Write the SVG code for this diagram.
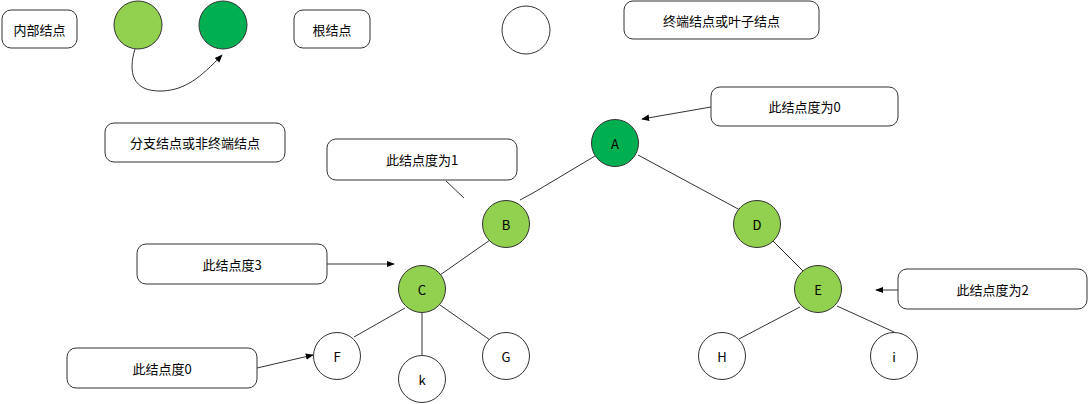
<svg xmlns="http://www.w3.org/2000/svg" width="1088" height="404" viewBox="0 0 1088 404">
<style>
.box{fill:#fff;stroke:#333;stroke-width:1}
.c{stroke:#333;stroke-width:1}
.lg{fill:#92D050}
.dg{fill:#00B050}
.w{fill:#fff}
.t{font-family:"Noto Sans CJK SC","Liberation Sans",sans-serif;font-size:13px;fill:#000;text-anchor:middle;dominant-baseline:central}
.e{fill:none;stroke:#333;stroke-width:1}
</style>
<defs>
<marker id="arr" viewBox="0 0 10 10" refX="9" refY="5" markerWidth="8" markerHeight="8" orient="auto" markerUnits="userSpaceOnUse"><path d="M0,1 L10,5 L0,9 Z" fill="#000"/></marker>
</defs>
<rect width="1088" height="404" fill="#fff"/>
<g id="connectors">
<path class="e" d="M135,49 C128,72 132,92 162,91 C185,90 200,78 222,55" marker-end="url(#arr)"/>
<path class="e" d="M711,107 L642,119" marker-end="url(#arr)"/>
<path class="e" d="M446,181 L464,198"/>
<path class="e" d="M595,156 L533,193 L520,200"/>
<path class="e" d="M638,155 L740,210"/>
<path class="e" d="M773,241 L803,271"/>
<path class="e" d="M800,307 L739,339"/>
<path class="e" d="M837,306 L894,332"/>
<path class="e" d="M898,290 L876,290" marker-end="url(#arr)"/>
<path class="e" d="M490,240 L440,275"/>
<path class="e" d="M327,264 L394,264" marker-end="url(#arr)"/>
<path class="e" d="M405,308 L354,337"/>
<path class="e" d="M422,313 L422,355"/>
<path class="e" d="M440,305 L490,340"/>
<path class="e" d="M257,368 L313,355" marker-end="url(#arr)"/>
</g>
<g id="legend-internal"><rect class="box" x="2" y="10" width="75" height="38" rx="9"/><text class="t" x="39.5" y="29">内部结点</text></g>
<g id="legend-lg"><circle class="c lg" cx="138" cy="25" r="24"/></g>
<g id="legend-dg"><circle class="c dg" cx="223" cy="25" r="24"/></g>
<g id="legend-root"><rect class="box" x="294" y="10" width="76" height="38" rx="9"/><text class="t" x="332" y="29">根结点</text></g>
<g id="legend-w"><circle class="c w" cx="526" cy="30" r="24"/></g>
<g id="legend-leaf"><rect class="box" x="624" y="1" width="195" height="38" rx="9"/><text class="t" x="721.5" y="20">终端结点或叶子结点</text></g>
<g id="legend-branch"><rect class="box" x="105" y="123" width="180" height="39" rx="9"/><text class="t" x="195" y="142.5">分支结点或非终端结点</text></g>
<g id="note-a"><rect class="box" x="711" y="87" width="187" height="39" rx="9"/><text class="t" x="804.5" y="106.5">此结点度为0</text></g>
<g id="note-b"><rect class="box" x="327" y="139" width="190" height="41" rx="9"/><text class="t" x="422" y="159.5">此结点度为1</text></g>
<g id="note-c"><rect class="box" x="137" y="244" width="190" height="40" rx="9"/><text class="t" x="232" y="264">此结点度3</text></g>
<g id="note-e"><rect class="box" x="898" y="269" width="189" height="40" rx="9"/><text class="t" x="992.5" y="289">此结点度为2</text></g>
<g id="note-f"><rect class="box" x="67" y="348" width="190" height="40" rx="9"/><text class="t" x="162" y="368">此结点度0</text></g>
<g id="node-A"><circle class="c dg" cx="615" cy="143" r="23.5"/><text class="t" x="615" y="143">A</text></g>
<g id="node-B"><circle class="c lg" cx="506" cy="224" r="23.5"/><text class="t" x="506" y="224">B</text></g>
<g id="node-D"><circle class="c lg" cx="757" cy="224" r="23.5"/><text class="t" x="757" y="224">D</text></g>
<g id="node-C"><circle class="c lg" cx="422" cy="289" r="23.5"/><text class="t" x="422" y="289">C</text></g>
<g id="node-E"><circle class="c lg" cx="818" cy="289" r="23.5"/><text class="t" x="818" y="289">E</text></g>
<g id="node-F"><circle class="c w" cx="337" cy="356" r="23.5"/><text class="t" x="337" y="356">F</text></g>
<g id="node-k"><circle class="c w" cx="422" cy="379" r="23.5"/><text class="t" x="422" y="379">k</text></g>
<g id="node-G"><circle class="c w" cx="506" cy="356" r="23.5"/><text class="t" x="506" y="356">G</text></g>
<g id="node-H"><circle class="c w" cx="722" cy="356" r="23.5"/><text class="t" x="722" y="356">H</text></g>
<g id="node-i"><circle class="c w" cx="894" cy="356" r="23.5"/><text class="t" x="894" y="356">i</text></g>
</svg>
